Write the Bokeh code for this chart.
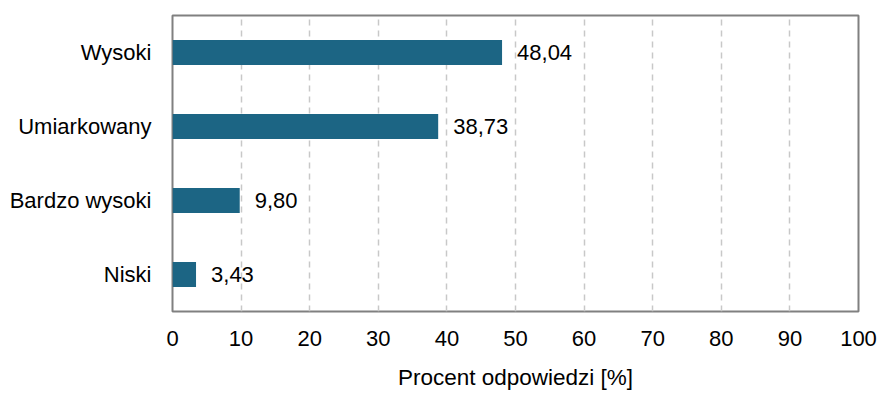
from bokeh.plotting import figure
from bokeh.models import ColumnDataSource, FixedTicker, Range1d
from bokeh.core.properties import value
from bokeh.embed import file_html
from bokeh.resources import INLINE

categories = ["Wysoki", "Umiarkowany", "Bardzo wysoki", "Niski"]
values = [48.04, 38.73, 9.80, 3.43]
x_ticks = [0, 10, 20, 30, 40, 50, 60, 70, 80, 90, 100]
x_label = "Procent odpowiedzi [%]"

labels = [f"{v:.2f}".replace(".", ",") for v in values]
src = ColumnDataSource(dict(cat=categories, val=values, lab=labels))

FONT = "Liberation Sans"

p = figure(width=880, height=393, y_range=list(reversed(categories)),
           x_range=Range1d(0, 100), output_backend="svg", toolbar_location=None,
           min_border_left=172, min_border_right=22, min_border_top=15, min_border_bottom=82)

p.hbar(y="cat", right="val", left=0, height=0.34, source=src,
       fill_color="#1c6584", line_color=None)
p.text(x="val", y="cat", text="lab", source=src, x_offset=15,
       text_baseline="middle", text_align="left", text_font=value(FONT),
       text_font_size="22px", text_color="#000000")

p.outline_line_color = "#808080"
p.outline_line_width = 2

p.xaxis.ticker = FixedTicker(ticks=x_ticks)
p.xaxis.axis_label = x_label
p.xaxis.axis_label_text_font = FONT
p.xaxis.axis_label_text_font_size = "22.5px"
p.xaxis.axis_label_text_font_style = "normal"
p.xaxis.axis_label_text_color = "#000000"
p.xaxis.axis_label_standoff = 16
p.xaxis.major_label_text_font = FONT
p.xaxis.major_label_text_font_size = "22px"
p.xaxis.major_label_text_color = "#000000"
p.xaxis.major_label_standoff = 13
p.xaxis.axis_line_color = None
p.xaxis.major_tick_line_color = None
p.xaxis.minor_tick_line_color = None

p.yaxis.major_label_text_font = FONT
p.yaxis.major_label_text_font_size = "22px"
p.yaxis.major_label_text_color = "#000000"
p.yaxis.major_label_standoff = 15
p.yaxis.axis_line_color = None
p.yaxis.major_tick_line_color = None
p.yaxis.minor_tick_line_color = None

p.xgrid.grid_line_color = "#c8c8c8"
p.xgrid.grid_line_dash = "6 5"
p.xgrid.grid_line_width = 1.5
p.ygrid.grid_line_color = None

open("out.html", "w").write(file_html(p, INLINE))
